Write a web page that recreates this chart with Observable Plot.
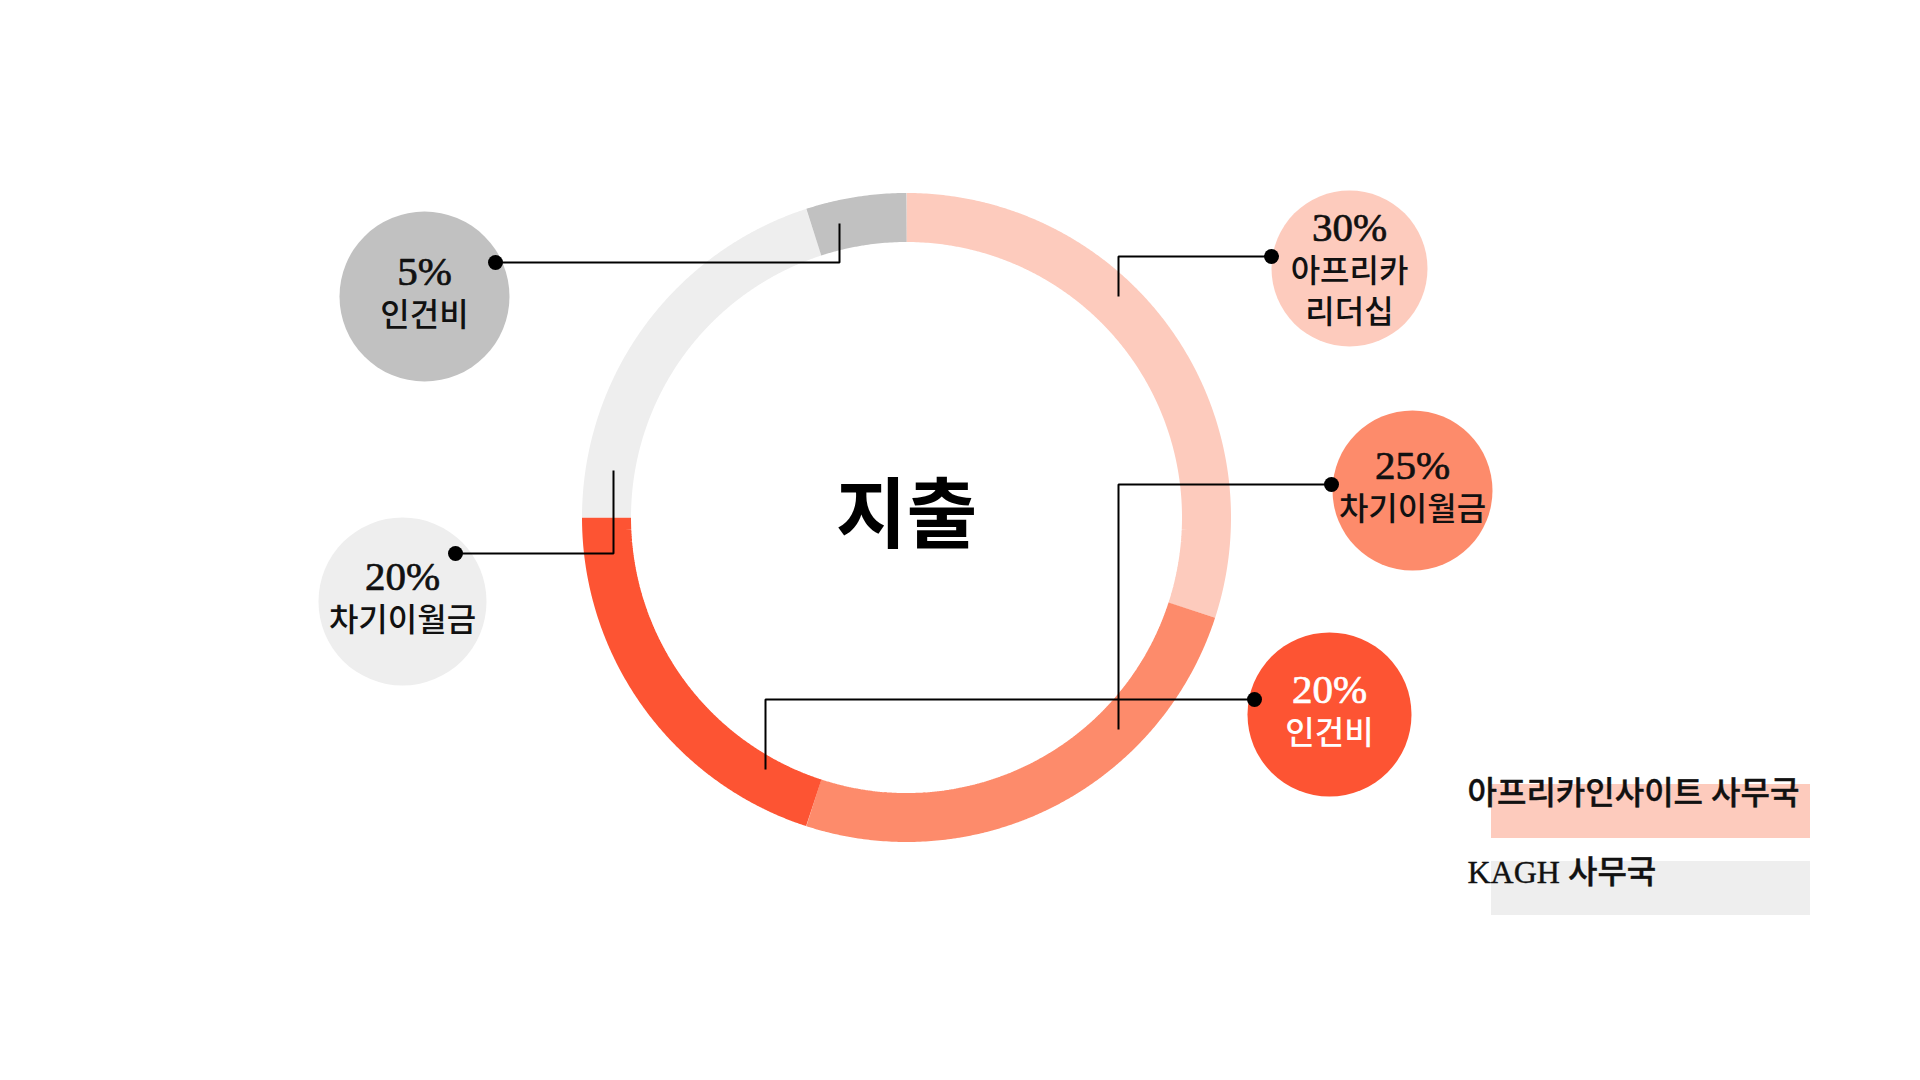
<!DOCTYPE html>
<html><head><meta charset="utf-8">
<script src="https://cdn.jsdelivr.net/npm/d3@7"></script>
<script src="https://cdn.jsdelivr.net/npm/@observablehq/plot@0.6"></script>
<style>
html,body{margin:0;padding:0;background:#fff;overflow:hidden;}
#chart{width:1920px;height:1080px;}
g[aria-label="pct"] text{letter-spacing:-1.5px;}
</style></head><body><div id="chart"></div>
<script>
// ---------- data ----------
const title = "지출";
const groups = ["아프리카인사이트 사무국","아프리카인사이트 사무국","아프리카인사이트 사무국","KAGH 사무국","KAGH 사무국"];
const categories = ["아프리카\n리더십","차기이월금","인건비","차기이월금","인건비"];
const values = [30,25,20,20,5];
const legendGroups = ["아프리카인사이트 사무국","KAGH 사무국"];

// ---------- styles ----------
const segColors = ["#fdcbbd","#fd8b6b","#fd5433","#eeeeee","#c1c1c1"];
const legendColors = ["#fdcbbd","#eeeeee"];
const labelColors = ["#111111","#111111","#ffffff","#111111","#111111"];
const FONT = "'Liberation Serif','Noto Sans CJK KR',serif";

// ---------- layout (pixels) ----------
const ring = {cx:906, cy:517, r:300, width:49};
const bubbleX = [1349,1412,1329,402,424];
const bubbleY = [268,490,714,601,296];
const bubbleR = [78,80,82,84,85];
const dotX = [1271,1331,1254,455,495];
const dotY = [256,484,699,553,262];
const elbowX = [1118,1118,765,613,839];
const endY = [296,729,769,470,223];
const legendTextX = 1467, legendBase = [803,882], legendRect = {x1:1491,x2:1810,top:784,h:54,step:77};

// ---------- derived ----------
const idx = values.map((_, i) => i);
const total = d3.sum(values);
let acc = 0;
const arcPts = [];
values.forEach((v, i) => {
  const a0 = acc / total * 2 * Math.PI, a1 = (acc + v) / total * 2 * Math.PI;
  acc += v;
  const n = Math.max(2, Math.ceil((a1 - a0) / (Math.PI / 360)));
  for (let k = 0; k <= n; k++) {
    const a = a0 + (a1 - a0) * k / n;
    arcPts.push({i, x: ring.cx + ring.r * Math.sin(a), y: ring.cy - ring.r * Math.cos(a)});
  }
});
const leaderPts = idx.flatMap(i => [
  {i, x: dotX[i], y: dotY[i]},
  {i, x: elbowX[i], y: dotY[i]},
  {i, x: elbowX[i], y: endY[i]}
]);
const nLines = i => categories[i].split("\n").length;
const pctBase = i => bubbleY[i] - 12 - (nLines(i) - 1) * 16;
const catBase = i => pctBase(i) + 41 * nLines(i);
const lIdx = legendGroups.map((_, i) => i);

const chart = Plot.plot({
  width: 1920, height: 1080, margin: 0,
  x: {domain: [0, 1920], range: [0, 1920], axis: null},
  y: {domain: [0, 1080], range: [0, 1080], axis: null},
  r: {type: "identity"},
  color: {type: "identity"},
  style: {background: "#ffffff", fontFamily: FONT},
  marks: [
    Plot.line(arcPts, {x: "x", y: "y", z: "i", stroke: d => segColors[d.i], strokeWidth: ring.width, strokeLinecap: "butt", strokeLinejoin: "miter"}),
    Plot.rect(lIdx, {x1: () => legendRect.x1, x2: () => legendRect.x2, y1: i => legendRect.top + i * legendRect.step, y2: i => legendRect.top + legendRect.h + i * legendRect.step, fill: i => legendColors[i]}),
    Plot.text(lIdx, {x: () => legendTextX, y: i => legendBase[i], text: i => legendGroups[i], textAnchor: "start", lineAnchor: "bottom", fontSize: 32, fontWeight: 500, fill: "#111111", stroke: "#111111", strokeWidth: 0.4, fontFamily: FONT}),
    Plot.dot(idx, {x: i => bubbleX[i], y: i => bubbleY[i], r: i => bubbleR[i], fill: i => segColors[i]}),
    Plot.line(leaderPts, {x: "x", y: "y", z: "i", stroke: "#000000", strokeWidth: 2, strokeLinecap: "butt", strokeLinejoin: "miter"}),
    Plot.dot(idx, {x: i => dotX[i], y: i => dotY[i], r: () => 7.5, fill: "#000000"}),
    Plot.text(idx, {ariaLabel: "pct", x: i => bubbleX[i], y: pctBase, text: i => values[i] + "%", fontSize: 41, fill: i => labelColors[i], stroke: i => labelColors[i], strokeWidth: 0.7, lineAnchor: "bottom", fontFamily: FONT}),
    Plot.text(idx, {x: i => bubbleX[i], y: catBase, text: i => categories[i], fontSize: 32, fontWeight: 500, lineHeight: 1.28, fill: i => labelColors[i], lineAnchor: "bottom", fontFamily: FONT}),
    Plot.text([title], {x: () => ring.cx, y: () => ring.cy, text: d => d, fontSize: 77, fontWeight: 700, fill: "#000000", lineAnchor: "middle", fontFamily: FONT})
  ]
});
document.getElementById("chart").appendChild(chart);
</script>
</body></html>
